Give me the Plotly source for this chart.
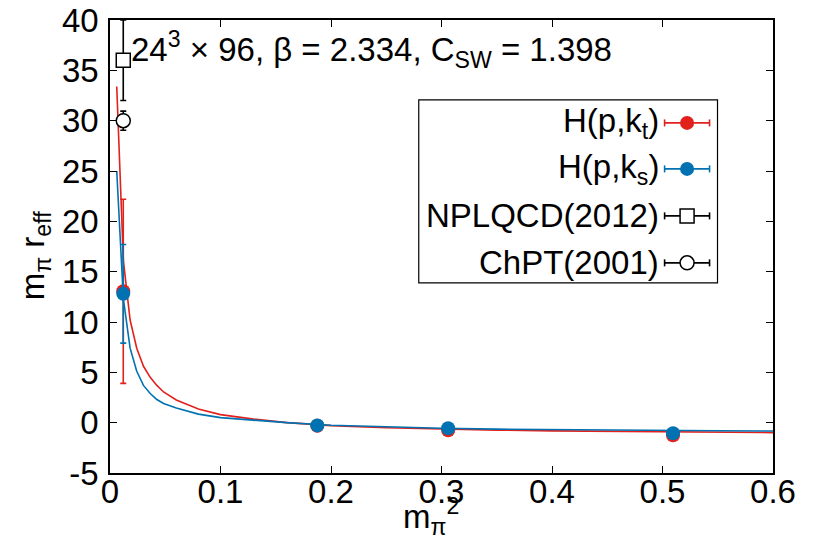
import plotly.graph_objects as go

# ---- data ----
kt_x = [0.012, 0.1876, 0.306, 0.5095]
kt_y = [13.05, -0.30, -0.75, -1.25]
kt_err = [9.15, 0.15, 0.15, 0.15]

ks_x = [0.012, 0.1876, 0.306, 0.5095]
ks_y = [12.8, -0.27, -0.55, -1.05]
ks_err = [4.9, 0.12, 0.12, 0.12]

npl_x = [0.012]
npl_y = [36.0]
npl_err = [4.0]

chpt_x = [0.012]
chpt_y = [30.0]
chpt_err = [0.95]

# fit curves
fit_kt_x = [0.0061, 0.0121, 0.0182, 0.0242, 0.0303, 0.0364, 0.0424, 0.0485, 0.06, 0.08,
            0.10, 0.13, 0.16, 0.20, 0.25, 0.30, 0.35, 0.40, 0.45, 0.50, 0.55, 0.60]
fit_kt_y = [33.4, 16.1, 10.2, 7.4, 5.6, 4.5, 3.7, 3.05, 2.25, 1.35,
            0.80, 0.35, 0.0, -0.29, -0.50, -0.64, -0.74, -0.82, -0.88, -0.93, -0.96, -0.99]
fit_ks_x = [0.0061, 0.0121, 0.0182, 0.0242, 0.0303, 0.0364, 0.0424, 0.0485, 0.06, 0.08,
            0.10, 0.13, 0.16, 0.20, 0.25, 0.30, 0.35, 0.40, 0.45, 0.50, 0.55, 0.60]
fit_ks_y = [25.0, 12.3, 7.4, 5.1, 3.7, 2.9, 2.3, 1.9, 1.45, 0.85,
            0.50, 0.22, 0.0, -0.25, -0.42, -0.55, -0.64, -0.70, -0.75, -0.79, -0.81, -0.83]

y_ticks = [-5, 0, 5, 10, 15, 20, 25, 30, 35, 40]
y_labels = ["-5", "0", "5", "10", "15", "20", "25", "30", "35", "40"]
x_ticks = [0, 0.1, 0.2, 0.3, 0.4, 0.5, 0.6]
x_labels = ["0", "0.1", "0.2", "0.3", "0.4", "0.5", "0.6"]

legend_names = ["H(p,k<sub>t</sub>)", "H(p,k<sub>s</sub>)", "NPLQCD(2012)", "ChPT(2001)"]

RED = "#e3211c"
BLUE = "#0072b2"
FONT = "Liberation Sans, Arial, sans-serif"
FS = 33

fig = go.Figure()

fig.add_trace(go.Scatter(x=fit_kt_x, y=fit_kt_y, mode="lines",
                         line=dict(color=RED, width=1.6), showlegend=False))
fig.add_trace(go.Scatter(x=kt_x, y=kt_y, mode="markers",
                         marker=dict(color=RED, size=14, symbol="circle"),
                         error_y=dict(type="data", array=kt_err, color=RED, thickness=1.6, width=3),
                         showlegend=False))
fig.add_trace(go.Scatter(x=fit_ks_x, y=fit_ks_y, mode="lines",
                         line=dict(color=BLUE, width=1.6), showlegend=False))
fig.add_trace(go.Scatter(x=ks_x, y=ks_y, mode="markers",
                         marker=dict(color=BLUE, size=14, symbol="circle"),
                         error_y=dict(type="data", array=ks_err, color=BLUE, thickness=1.6, width=3),
                         showlegend=False))
fig.add_trace(go.Scatter(x=npl_x, y=npl_y, mode="markers",
                         marker=dict(color="white", size=14, symbol="square",
                                     line=dict(color="black", width=1.5)),
                         error_y=dict(type="data", array=npl_err, color="black", thickness=1.6, width=3),
                         showlegend=False))
fig.add_trace(go.Scatter(x=chpt_x, y=chpt_y, mode="markers",
                         marker=dict(color="white", size=14, symbol="circle",
                                     line=dict(color="black", width=1.5)),
                         error_y=dict(type="data", array=chpt_err, color="black", thickness=1.6, width=3),
                         showlegend=False))

# ---- manual gnuplot-style legend (paper coords) ----
shapes = []
annotations = []
shapes.append(dict(type="rect", xref="paper", yref="paper", x0=0.4657, x1=0.9163,
                   y0=0.4198, y1=0.8235, line=dict(color="black", width=1.2),
                   fillcolor="rgba(0,0,0,0)", layer="above"))
row_y = [0.7728, 0.6713, 0.5676, 0.4639]
row_col = [RED, BLUE, "black", "black"]
row_sym = ["fcircle", "fcircle", "square", "ocircle"]
lx0, lx1, lxm = 0.8365, 0.9043, 0.8704
for name, yy, col, sym in zip(legend_names, row_y, row_col, row_sym):
    annotations.append(dict(xref="paper", yref="paper", x=0.831, y=yy, xanchor="right",
                            yanchor="middle", text=name, showarrow=False,
                            font=dict(family=FONT, size=FS, color="black")))
    shapes.append(dict(type="line", xref="paper", yref="paper", x0=lx0, x1=lx1, y0=yy, y1=yy,
                       line=dict(color=col, width=1.6), layer="above"))
    for xc in (lx0, lx1):
        shapes.append(dict(type="line", xref="paper", yref="paper", xsizemode="pixel",
                           ysizemode="pixel", xanchor=xc, yanchor=yy, x0=0, x1=0, y0=-3.5, y1=3.5,
                           line=dict(color=col, width=1.6), layer="above"))
    if sym == "fcircle":
        shapes.append(dict(type="circle", xref="paper", yref="paper", xsizemode="pixel",
                           ysizemode="pixel", xanchor=lxm, yanchor=yy, x0=-7, x1=7, y0=-7, y1=7,
                           fillcolor=col, line=dict(color=col, width=0), layer="above"))
    elif sym == "square":
        shapes.append(dict(type="rect", xref="paper", yref="paper", xsizemode="pixel",
                           ysizemode="pixel", xanchor=lxm, yanchor=yy, x0=-7, x1=7, y0=-7, y1=7,
                           fillcolor="white", line=dict(color="black", width=1.5), layer="above"))
    else:
        shapes.append(dict(type="circle", xref="paper", yref="paper", xsizemode="pixel",
                           ysizemode="pixel", xanchor=lxm, yanchor=yy, x0=-7, x1=7, y0=-7, y1=7,
                           fillcolor="white", line=dict(color="black", width=1.5), layer="above"))

annotations.append(dict(xref="paper", yref="paper", x=0.028, y=0.934, xanchor="left",
                        yanchor="middle", showarrow=False,
                        text="24<sup>3</sup> × 96, β = 2.334, C<sub>SW</sub> = 1.398",
                        font=dict(family=FONT, size=FS, color="black")))
# axis titles
annotations.append(dict(xref="paper", yref="paper", x=-0.114, y=0.4794, xanchor="center",
                        yanchor="middle", showarrow=False, textangle=-90,
                        text="m<sub>π</sub> r<sub>eff</sub>",
                        font=dict(family=FONT, size=FS, color="black")))
annotations.append(dict(xref="paper", yref="paper", x=0.4838, y=-0.096, xanchor="center",
                        yanchor="middle", showarrow=False,
                        text="m<sub>π</sub><sup>2</sup>",
                        font=dict(family=FONT, size=FS, color="black")))

# page has an 8px body margin: figure is 807x540 so that it sits at the same place
fig.update_layout(
    width=807, height=540,
    margin=dict(l=102, r=41.5, t=12, b=74.7, autoexpand=False),
    paper_bgcolor="white", plot_bgcolor="white",
    font=dict(family=FONT, size=FS, color="black"),
    showlegend=False,
    shapes=shapes, annotations=annotations,
    xaxis=dict(range=[0, 0.6], tickvals=x_ticks, ticktext=x_labels, automargin=False,
               ticks="inside", ticklen=7, tickcolor="black", tickwidth=1.2,
               showline=True, linecolor="black", linewidth=1.5, mirror="ticks",
               showgrid=False, zeroline=False, ticklabelstandoff=-11,
               ticklabeloverflow="allow"),
    yaxis=dict(range=[-5, 40], tickvals=y_ticks, ticktext=y_labels, automargin=False,
               ticks="inside", ticklen=7, tickcolor="black", tickwidth=1.2,
               showline=True, linecolor="black", linewidth=1.5, mirror="ticks",
               showgrid=False, zeroline=False, ticklabelstandoff=3,
               ticklabeloverflow="allow"),
)

fig.write_html("out.html")
